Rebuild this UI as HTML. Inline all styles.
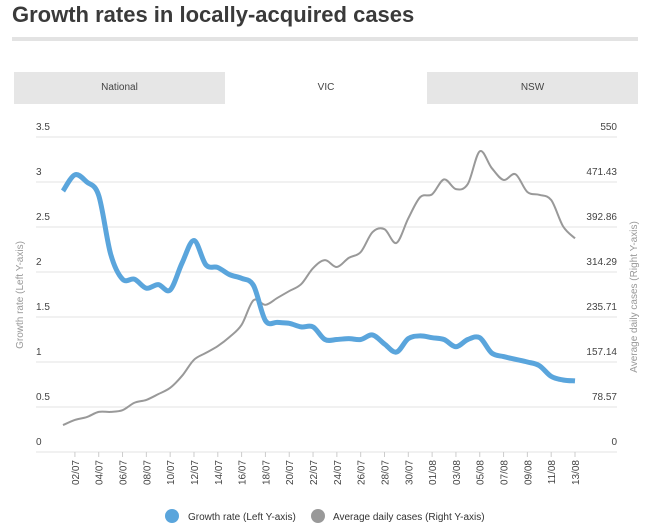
<!DOCTYPE html>
<html><head><meta charset="utf-8">
<style>
body{margin:0;width:660px;height:530px;background:#fff;font-family:"Liberation Sans",sans-serif;overflow:hidden;position:relative}
#title{position:absolute;left:12px;top:2px;font-size:22px;font-weight:bold;color:#3a3a3a;margin:0}
#rule{position:absolute;left:12px;top:37px;width:626px;height:4px;background:#e3e3e3}
.tabs{position:absolute;left:14px;top:72px;width:624px;height:32px;background:#e6e6e6}
.tab{position:absolute;top:0;height:32px;line-height:32px;text-align:center;font-size:10px;color:#444}
</style></head><body>
<h1 id="title">Growth rates in locally-acquired cases</h1>
<div id="rule"></div>
<div class="tabs">
<div class="tab" style="left:0;width:211px">National</div>
<div class="tab" style="left:211px;width:202px;background:#fff">VIC</div>
<div class="tab" style="left:413px;width:211px">NSW</div>
</div>
<svg id="chart" width="660" height="530" style="position:absolute;left:0;top:0"></svg>
<script>
const dates=["01/07","02/07","03/07","04/07","05/07","06/07","07/07","08/07","09/07","10/07","11/07","12/07","13/07","14/07","15/07","16/07","17/07","18/07","19/07","20/07","21/07","22/07","23/07","24/07","25/07","26/07","27/07","28/07","29/07","30/07","31/07","01/08","02/08","03/08","04/08","05/08","06/08","07/08","08/08","09/08","10/08","11/08","12/08","13/08"];
const growth=[2.9,3.08,3.0,2.85,2.2,1.92,1.92,1.82,1.86,1.8,2.1,2.35,2.08,2.05,1.97,1.93,1.85,1.46,1.44,1.43,1.39,1.39,1.25,1.25,1.26,1.25,1.3,1.2,1.11,1.26,1.29,1.27,1.25,1.17,1.25,1.27,1.1,1.06,1.03,1.0,0.96,0.84,0.8,0.79];
const cases=[47,56,61,70,70,73,86,91,101,112,133,161,173,185,201,222,265,257,269,281,293,321,335,323,339,349,384,389,365,408,445,450,476,459,468,525,496,475,485,454,449,440,394,373];
const leftTicks=["0","0.5","1","1.5","2","2.5","3","3.5"];
const rightTicks=["0","78.57","157.14","235.71","314.29","392.86","471.43","550"];
const NS="http://www.w3.org/2000/svg",svg=document.getElementById('chart');
const X0=63,X1=575,Y0=452,Y1=137,GL=36,GR=617;
const x=i=>X0+(X1-X0)*i/(dates.length-1);
const yL=v=>Y0-(Y0-Y1)*v/3.5;
const yR=v=>Y0-(Y0-Y1)*v/550;
function el(t,a,txt){const e=document.createElementNS(NS,t);for(const k in a)e.setAttribute(k,a[k]);if(txt!==undefined)e.textContent=txt;svg.appendChild(e);return e;}
leftTicks.forEach((t,i)=>{const yy=yL(+t);
 const g=el('line',{x1:GL,x2:GR,y1:yy,y2:yy,stroke:'#e3e3e3','stroke-width':1});
 
 
 const l=el('text',{x:GL,y:yy-7,'font-size':10,fill:'#444'},t);
 
 
 const r=el('text',{x:GR,y:yy-7,'font-size':10,fill:'#444','text-anchor':'end'},rightTicks[i]);
 
 
});
dates.forEach((d,i)=>{if(i%2==1){const xx=x(i);
 const tk=el('line',{x1:xx,x2:xx,y1:Y0,y2:Y0+5,stroke:'#ccc'});
 
 
 const t=el('text',{x:0,y:0,'font-size':10,fill:'#444','text-anchor':'end',transform:`translate(${xx+4},${Y0+8}) rotate(-90)`},d);
 
 }});
function path(vals,f){const p=vals.map((v,i)=>[x(i),f(v)]);let d=`M${p[0][0]},${p[0][1]}`;
 for(let i=0;i<p.length-1;i++){const a=p[i-1]||p[i],b=p[i],c=p[i+1],e=p[i+2]||c;
 d+=`C${b[0]+(c[0]-a[0])/6},${b[1]+(c[1]-a[1])/6} ${c[0]-(e[0]-b[0])/6},${c[1]-(e[1]-b[1])/6} ${c[0]},${c[1]}`;}return d;}
const gl=el('path',{d:path(cases,yR),fill:'none',stroke:'#999','stroke-width':2});


const bl=el('path',{d:path(growth,yL),fill:'none',stroke:'#5aa5dc','stroke-width':5,'stroke-linejoin':'round'});


const ly=el('text',{x:0,y:0,'font-size':10,fill:'#999','text-anchor':'middle',transform:'translate(23,295) rotate(-90)'},'Growth rate (Left Y-axis)');


const ry=el('text',{x:0,y:0,'font-size':10,fill:'#999','text-anchor':'middle',transform:'translate(637,297) rotate(-90)'},'Average daily cases (Right Y-axis)');


const c1=el('circle',{cx:172,cy:516,r:7,fill:'#5aa5dc'});


const t1=el('text',{x:188,y:520,'font-size':10,fill:'#333'},'Growth rate (Left Y-axis)');


const c2=el('circle',{cx:318,cy:516,r:7,fill:'#999'});


const t2=el('text',{x:333,y:520,'font-size':10,fill:'#333'},'Average daily cases (Right Y-axis)');


</script>
</body></html>
